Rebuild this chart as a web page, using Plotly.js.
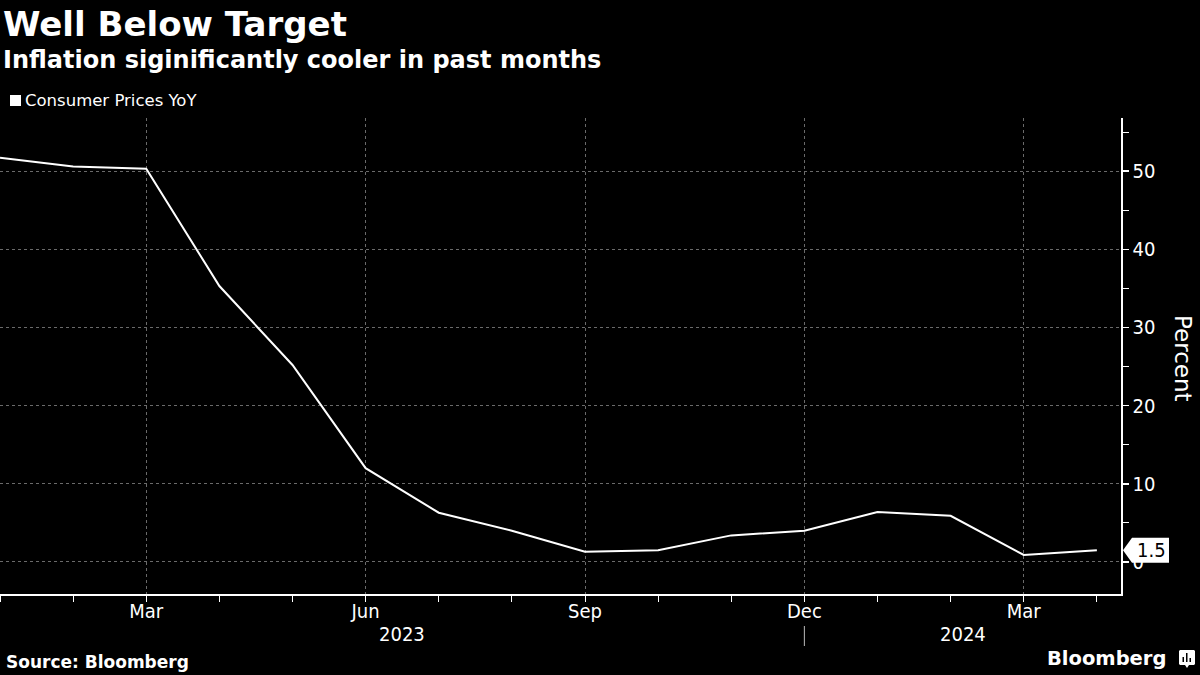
<!DOCTYPE html>
<html>
<head>
<meta charset="utf-8">
<script src="https://cdn.plot.ly/plotly-3.0.1.min.js"></script>
<style>
html,body{margin:0;padding:0;background:#000;}
#chart{width:1200px;height:675px;}
</style>
</head>
<body>
<div id="chart"></div>
<script>
// ---- Data ----
const months = ["2023-01","2023-02","2023-03","2023-04","2023-05","2023-06","2023-07","2023-08",
                "2023-09","2023-10","2023-11","2023-12","2024-01","2024-02","2024-03","2024-04"];
const cpiYoY = [51.7, 50.6, 50.3, 35.3, 25.2, 12.0, 6.3, 4.0, 1.3, 1.5, 3.4, 4.0, 6.4, 5.9, 0.9, 1.5];
const monthNames = ["Jan","Feb","Mar","Apr","May","Jun","Jul","Aug","Sep","Oct","Nov","Dec"];
const yTicks = [0, 10, 20, 30, 40, 50];
const seriesName = "Consumer Prices YoY";

// ---- Derived ----
const xIdx = months.map((m, i) => i);
const quarterIdx = [], quarterText = [];
months.forEach((m, i) => {
  const mo = parseInt(m.slice(5), 10);
  if (mo % 3 === 0) { quarterIdx.push(i); quarterText.push(monthNames[mo - 1]); }
});
const lastVal = cpiYoY[cpiYoY.length - 1];
const decIdx = months.indexOf("2023-12");

// ---- Layout geometry (pixels) ----
const W = 1200, H = 675;
const M = {l: 0, r: 79, t: 118, b: 81};
const PW = W - M.l - M.r, PH = H - M.t - M.b;
const px = v => (v - M.l) / PW;          // pixel x -> paper
const py = v => (H - M.b - v) / PH;      // pixel y -> paper

const REG = "DejaVu Sans, Liberation Sans, sans-serif";
const COND = "DejaVu Sans Condensed, DejaVu Sans, sans-serif";

const trace = {
  x: xIdx, y: cpiYoY, type: "scatter", mode: "lines",
  line: {color: "#ffffff", width: 2}, name: seriesName, showlegend: false,
  hoverinfo: "skip"
};

const layout = {
  width: W, height: H,
  paper_bgcolor: "#000000", plot_bgcolor: "#000000",
  margin: M,
  showlegend: false,
  xaxis: {
    type: "linear", range: [0, 15.33], fixedrange: true,
    tickvals: quarterIdx, ticktext: quarterText,
    ticks: "outside", ticklen: 6, tickwidth: 1, tickcolor: "#ffffff",
    ticklabelstandoff: -8,
    tickfont: {family: COND, size: 20, color: "#ffffff"},
    showgrid: true, gridcolor: "#6a6a6a", griddash: "dot", gridwidth: 1,
    showline: true, linecolor: "#ffffff", linewidth: 1.5,
    zeroline: false,
    minor: {tickvals: xIdx, ticks: "outside", ticklen: 6, tickcolor: "#ffffff", tickwidth: 1, showgrid: false}
  },
  yaxis: {
    side: "right", range: [-4.1, 56.8], fixedrange: true,
    tickvals: yTicks, ticks: "outside", ticklen: 6, tickwidth: 1.5, tickcolor: "#ffffff",
    tickfont: {family: COND, size: 20, color: "#ffffff"},
    showgrid: true, gridcolor: "#6a6a6a", griddash: "dot", gridwidth: 1,
    showline: true, linecolor: "#ffffff", linewidth: 1.5,
    zeroline: false,
    minor: {dtick: 5, tick0: 0, ticks: "outside", ticklen: 6, tickcolor: "#ffffff", tickwidth: 1, showgrid: false}
  },
  shapes: [
    // legend swatch
    {type: "rect", xref: "paper", yref: "paper", x0: px(10), x1: px(21), y0: py(106), y1: py(95),
     fillcolor: "#ffffff", line: {width: 0}},
    // year separator under Dec
    {type: "line", xref: "x", yref: "paper", x0: decIdx, x1: decIdx, y0: py(626), y1: py(646),
     line: {color: "#bbbbbb", width: 1}},
    // last value tag
    {type: "path", xref: "paper", yref: "y", xsizemode: "pixel", ysizemode: "pixel",
     xanchor: 1, yanchor: lastVal, layer: "above",
     path: "M 2,0 L 11,-12.5 L 48,-12.5 L 48,12.5 L 11,12.5 Z",
     fillcolor: "#ffffff", line: {width: 0}},
    // Bloomberg icon
    {type: "path", xref: "paper", yref: "paper", layer: "above",
     path: `M ${px(1180)},${py(650)} L ${px(1194)},${py(650)} L ${px(1195)},${py(651)} L ${px(1195)},${py(664)} L ${px(1194)},${py(665)} L ${px(1189)},${py(665)} L ${px(1187)},${py(668)} L ${px(1185)},${py(665)} L ${px(1180)},${py(665)} L ${px(1179)},${py(664)} L ${px(1179)},${py(651)} Z`,
     fillcolor: "#ffffff", line: {width: 0}},
    {type: "rect", xref: "paper", yref: "paper", x0: px(1182.5), x1: px(1184), y0: py(662), y1: py(657),
     fillcolor: "#000000", line: {width: 0}},
    {type: "rect", xref: "paper", yref: "paper", x0: px(1186), x1: px(1187.5), y0: py(662), y1: py(653),
     fillcolor: "#000000", line: {width: 0}},
    {type: "rect", xref: "paper", yref: "paper", x0: px(1189.5), x1: px(1191), y0: py(662), y1: py(658),
     fillcolor: "#000000", line: {width: 0}}
  ],
  annotations: [
    {text: "<b>Well Below Target</b>", xref: "paper", yref: "paper", x: px(1), y: py(24),
     xanchor: "left", yanchor: "middle", showarrow: false,
     font: {family: REG, size: 34, color: "#ffffff"}},
    {text: "<b>Inflation siginificantly cooler in past months</b>", xref: "paper", yref: "paper",
     x: px(1), y: py(60), xanchor: "left", yanchor: "middle", showarrow: false,
     font: {family: REG, size: 24, color: "#ffffff"}},
    {text: seriesName, xref: "paper", yref: "paper", x: px(23), y: py(101),
     xanchor: "left", yanchor: "middle", showarrow: false,
     font: {family: REG, size: 16.5, color: "#ffffff"}},
    {text: "Percent", xref: "paper", yref: "paper", x: px(1183), y: py(358),
     xanchor: "center", yanchor: "middle", textangle: 90, showarrow: false,
     font: {family: REG, size: 23, color: "#ffffff"}},
    {text: "2023", xref: "x", yref: "paper", x: 5.5, y: py(634),
     xanchor: "center", yanchor: "middle", showarrow: false,
     font: {family: COND, size: 20, color: "#ffffff"}},
    {text: "2024", xref: "x", yref: "paper", x: 13.17, y: py(634),
     xanchor: "center", yanchor: "middle", showarrow: false,
     font: {family: COND, size: 20, color: "#ffffff"}},
    {text: String(lastVal), xref: "paper", yref: "y", x: px(1151), y: lastVal,
     xanchor: "center", yanchor: "middle", showarrow: false,
     font: {family: COND, size: 20, color: "#000000"}},
    {text: "<b>Source: Bloomberg</b>", xref: "paper", yref: "paper", x: px(4), y: py(662),
     xanchor: "left", yanchor: "middle", showarrow: false,
     font: {family: REG, size: 17, color: "#ffffff"}},
    {text: "<b>Bloomberg</b>", xref: "paper", yref: "paper", x: px(1168), y: py(658),
     xanchor: "right", yanchor: "middle", showarrow: false,
     font: {family: REG, size: 19.5, color: "#ffffff"}}
  ]
};

Plotly.newPlot("chart", [trace], layout, {displayModeBar: false, staticPlot: true});
</script>
</body>
</html>
